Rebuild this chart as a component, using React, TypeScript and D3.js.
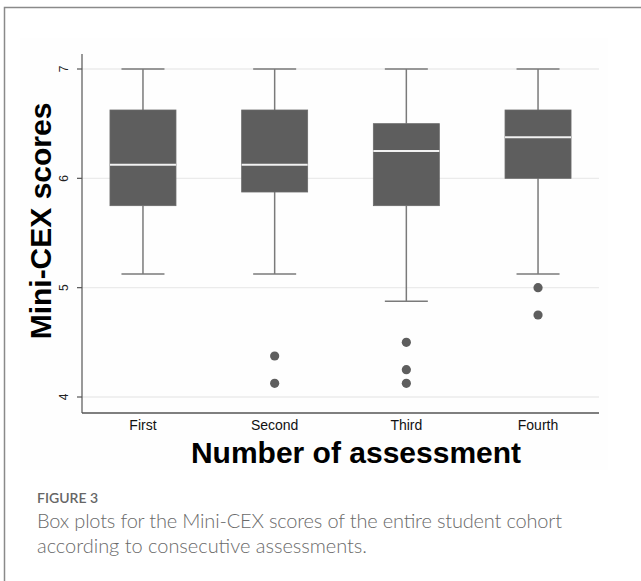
import React from "react";
import * as d3 from "d3";

const categories = ["First", "Second", "Third", "Fourth"];
const whiskerHigh = [7, 7, 7, 7];
const q3Values = [6.625, 6.625, 6.5, 6.625];
const medianValues = [6.125, 6.125, 6.25, 6.375];
const q1Values = [5.75, 5.875, 5.75, 6.0];
const whiskerLow = [5.125, 5.125, 4.875, 5.125];
const outliers: number[][] = [[], [4.375, 4.125], [4.5, 4.25, 4.125], [5.0, 4.75]];
const yTicks = [4, 5, 6, 7];

export default function App() {
  const W = 641, H = 581;
  const left = 82, right = 599, axisY = 413, axisTop = 54;
  const x = d3.scalePoint<string>().domain(categories).range([left, right]).padding(0.463);
  const y = d3.scaleLinear().domain([4, 7]).range([397, 69]);
  const boxW = 66, capW = 43;
  const boxFill = "#5e5e5e";
  const whisk = "#7a7a7a";

  return (
    <svg width={W} height={H} style={{ position: "absolute", left: 0, top: 0, background: "#fff" }}
      fontFamily="Arial, 'Liberation Sans', Helvetica, sans-serif">
      {/* outer frame */}
      <path d={`M4.5,${H} V7.5 H${W}`} fill="none" stroke="#8a8a8a" strokeWidth={1.5} />
      {/* faint chart background */}
      <rect x={20} y={38} width={588} height={432} fill="#fefefe" />
      {/* gridlines */}
      {yTicks.map((t) => (
        <line key={"g" + t} x1={left} x2={right} y1={y(t)} y2={y(t)} stroke="#ebebeb" strokeWidth={1.3} />
      ))}
      {/* axes */}
      <line x1={left} x2={left} y1={axisTop} y2={axisY} stroke="#555" strokeWidth={1.2} />
      <line x1={left} x2={right} y1={axisY} y2={axisY} stroke="#555" strokeWidth={1.5} />
      {yTicks.map((t) => (
        <g key={"t" + t}>
          <line x1={left - 5} x2={left} y1={y(t)} y2={y(t)} stroke="#555" strokeWidth={1.2} />
          <text transform={`translate(68,${y(t)}) rotate(-90)`} textAnchor="middle" fontSize={12} fill="#222">
            {t}
          </text>
        </g>
      ))}
      {/* boxes */}
      {categories.map((c, i) => {
        const cx = x(c) as number;
        return (
          <g key={c}>
            <line x1={cx} x2={cx} y1={y(whiskerHigh[i])} y2={y(q3Values[i])} stroke={whisk} strokeWidth={1.5} />
            <line x1={cx} x2={cx} y1={y(q1Values[i])} y2={y(whiskerLow[i])} stroke={whisk} strokeWidth={1.5} />
            <line x1={cx - capW / 2} x2={cx + capW / 2} y1={y(whiskerHigh[i])} y2={y(whiskerHigh[i])} stroke={whisk} strokeWidth={1.5} />
            <line x1={cx - capW / 2} x2={cx + capW / 2} y1={y(whiskerLow[i])} y2={y(whiskerLow[i])} stroke={whisk} strokeWidth={1.5} />
            <rect x={cx - boxW / 2} y={y(q3Values[i])} width={boxW} height={y(q1Values[i]) - y(q3Values[i])}
              fill={boxFill} stroke="#6a6a6a" strokeWidth={0.8} />
            <line x1={cx - boxW / 2} x2={cx + boxW / 2} y1={y(medianValues[i])} y2={y(medianValues[i])} stroke="#f2f2f2" strokeWidth={2} />
            {outliers[i].map((o, j) => (
              <circle key={j} cx={cx} cy={y(o)} r={4.6} fill={boxFill} />
            ))}
            <text x={cx} y={430} textAnchor="middle" fontSize={14} fill="#111">{c}</text>
          </g>
        );
      })}
      {/* axis titles */}
      <text x={356} y={463} textAnchor="middle" fontSize={30} fontWeight="bold" fill="#000">
        Number of assessment
      </text>
      <text transform="translate(51,221) rotate(-90)" textAnchor="middle" fontSize={30} fontWeight="bold" fill="#000">
        Mini-CEX scores
      </text>
      {/* caption */}
      <text x={37} y={503} fontSize={14} fontFamily="Lato, 'Open Sans', sans-serif" fontWeight={600} fill="#666">
        FIGURE 3
      </text>
      <text x={37} y={528} fontSize={20} fontFamily="Lato, 'Open Sans', sans-serif" fontWeight={300} fill="#6a6a6a"
        textLength={525} lengthAdjust="spacing">
        Box plots for the Mini-CEX scores of the entire student cohort
      </text>
      <text x={37} y={553} fontSize={20} fontFamily="Lato, 'Open Sans', sans-serif" fontWeight={300} fill="#6a6a6a"
        textLength={330} lengthAdjust="spacing">
        according to consecutive assessments.
      </text>
    </svg>
  );
}
